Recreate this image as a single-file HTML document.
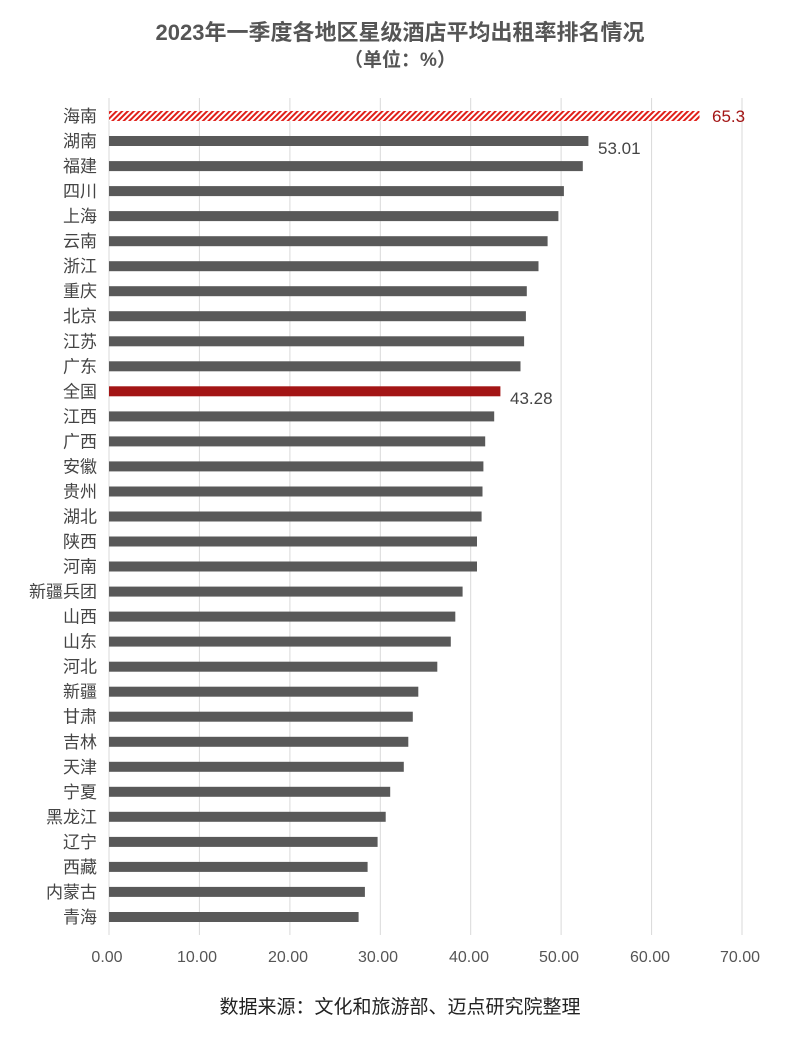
<!DOCTYPE html>
<html><head><meta charset="utf-8"><style>
body{margin:0;background:#fff;}
svg text{font-family:"Liberation Sans","Noto Sans CJK SC",sans-serif;}
</style></head><body>
<svg width="800" height="1040" viewBox="0 0 800 1040" xmlns="http://www.w3.org/2000/svg">
<defs>
<pattern id="h" width="4" height="4" patternUnits="userSpaceOnUse" patternTransform="rotate(45)">
<rect width="4" height="4" fill="#fff"/><rect width="2" height="4" fill="#e0201a"/>
</pattern>
</defs>
<text x="400" y="40" text-anchor="middle" font-size="22" font-weight="bold" fill="#555">2023年一季度各地区星级酒店平均出租率排名情况</text>
<text x="400" y="66" text-anchor="middle" font-size="19" font-weight="bold" fill="#555">（单位：%）</text>
<g stroke="#d9d9d9" stroke-width="1">
<line x1="109" y1="98" x2="109" y2="935"/><line x1="199.4" y1="98" x2="199.4" y2="935"/><line x1="289.9" y1="98" x2="289.9" y2="935"/><line x1="380.3" y1="98" x2="380.3" y2="935"/><line x1="470.7" y1="98" x2="470.7" y2="935"/><line x1="561.1" y1="98" x2="561.1" y2="935"/><line x1="651.6" y1="98" x2="651.6" y2="935"/><line x1="742" y1="98" x2="742" y2="935"/>
</g>
<g fill="#595959">
<rect x="109" y="111" width="590.5" height="10" fill="url(#h)"/>
<rect x="109" y="136" width="479.4" height="10"/>
<rect x="109" y="161.1" width="473.8" height="10"/>
<rect x="109" y="186.1" width="454.9" height="10"/>
<rect x="109" y="211.1" width="449.4" height="10"/>
<rect x="109" y="236.2" width="438.6" height="10"/>
<rect x="109" y="261.2" width="429.5" height="10"/>
<rect x="109" y="286.2" width="417.8" height="10"/>
<rect x="109" y="311.2" width="416.9" height="10"/>
<rect x="109" y="336.3" width="415.1" height="10"/>
<rect x="109" y="361.3" width="411.5" height="10"/>
<rect x="109" y="386.3" width="391.4" height="10" fill="#a31515"/>
<rect x="109" y="411.4" width="385.2" height="10"/>
<rect x="109" y="436.4" width="376.2" height="10"/>
<rect x="109" y="461.4" width="374.4" height="10"/>
<rect x="109" y="486.5" width="373.5" height="10"/>
<rect x="109" y="511.5" width="372.6" height="10"/>
<rect x="109" y="536.5" width="368" height="10"/>
<rect x="109" y="561.5" width="368" height="10"/>
<rect x="109" y="586.6" width="353.6" height="10"/>
<rect x="109" y="611.6" width="346.3" height="10"/>
<rect x="109" y="636.6" width="341.8" height="10"/>
<rect x="109" y="661.7" width="328.3" height="10"/>
<rect x="109" y="686.7" width="309.3" height="10"/>
<rect x="109" y="711.7" width="303.8" height="10"/>
<rect x="109" y="736.8" width="299.3" height="10"/>
<rect x="109" y="761.8" width="294.8" height="10"/>
<rect x="109" y="786.8" width="281.2" height="10"/>
<rect x="109" y="811.8" width="276.7" height="10"/>
<rect x="109" y="836.9" width="268.6" height="10"/>
<rect x="109" y="861.9" width="258.6" height="10"/>
<rect x="109" y="886.9" width="255.9" height="10"/>
<rect x="109" y="912" width="249.6" height="10"/>
</g>
<g font-size="17" fill="#444" text-anchor="end">
<text x="97" y="122">海南</text><text x="97" y="147">湖南</text><text x="97" y="172.1">福建</text><text x="97" y="197.1">四川</text><text x="97" y="222.1">上海</text><text x="97" y="247.2">云南</text><text x="97" y="272.2">浙江</text><text x="97" y="297.2">重庆</text><text x="97" y="322.2">北京</text><text x="97" y="347.3">江苏</text><text x="97" y="372.3">广东</text><text x="97" y="397.3">全国</text><text x="97" y="422.4">江西</text><text x="97" y="447.4">广西</text><text x="97" y="472.4">安徽</text><text x="97" y="497.5">贵州</text><text x="97" y="522.5">湖北</text><text x="97" y="547.5">陕西</text><text x="97" y="572.5">河南</text><text x="97" y="597.6">新疆兵团</text><text x="97" y="622.6">山西</text><text x="97" y="647.6">山东</text><text x="97" y="672.7">河北</text><text x="97" y="697.7">新疆</text><text x="97" y="722.7">甘肃</text><text x="97" y="747.8">吉林</text><text x="97" y="772.8">天津</text><text x="97" y="797.8">宁夏</text><text x="97" y="822.8">黑龙江</text><text x="97" y="847.9">辽宁</text><text x="97" y="872.9">西藏</text><text x="97" y="897.9">内蒙古</text><text x="97" y="923">青海</text>
</g>
<text x="712" y="122" font-size="17" fill="#a31515">65.3</text>
<text x="598" y="154" font-size="17" fill="#444">53.01</text>
<text x="510" y="404" font-size="17" fill="#444">43.28</text>
<g font-size="16" fill="#555" text-anchor="middle">
<text x="107" y="962">0.00</text><text x="197" y="962">10.00</text><text x="288" y="962">20.00</text><text x="378" y="962">30.00</text><text x="469" y="962">40.00</text><text x="559" y="962">50.00</text><text x="650" y="962">60.00</text><text x="740" y="962">70.00</text>
</g>
<text x="400" y="1013" text-anchor="middle" font-size="19" fill="#222">数据来源：文化和旅游部、迈点研究院整理</text>
</svg>
</body></html>
